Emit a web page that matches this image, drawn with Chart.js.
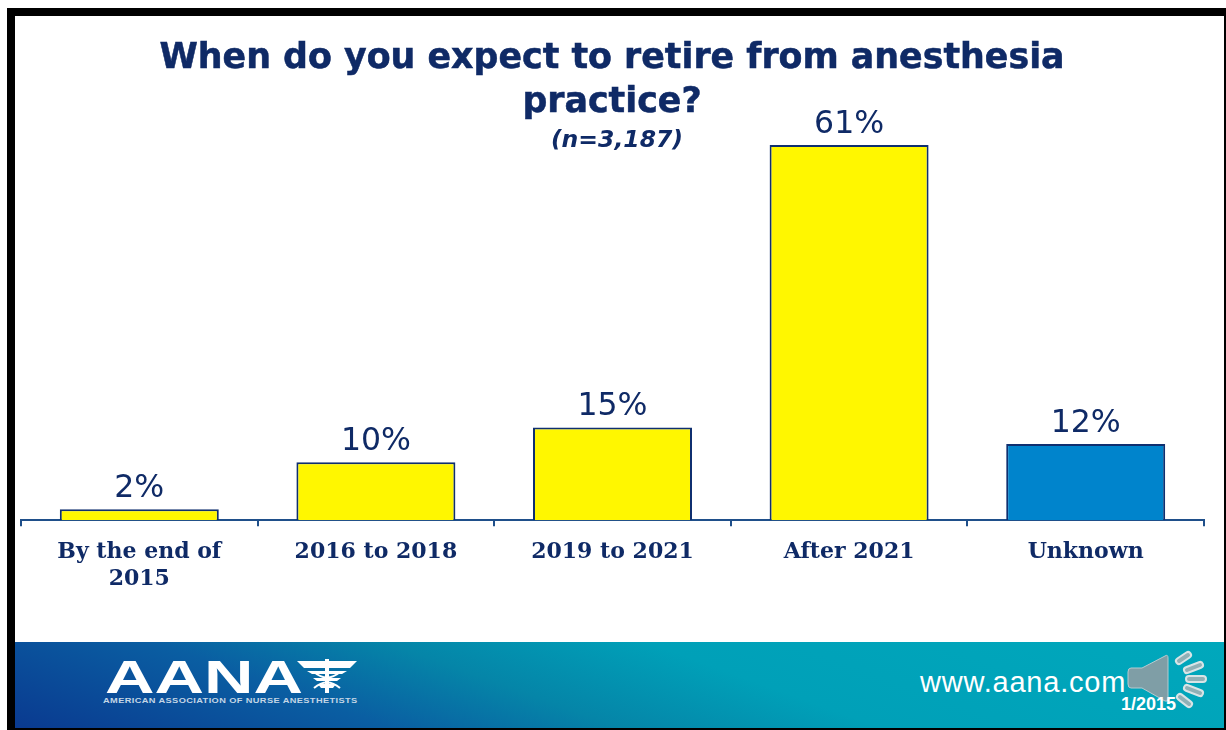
<!DOCTYPE html>
<html><head><meta charset="utf-8">
<script src="https://cdn.jsdelivr.net/npm/chart.js@4"></script>
<style>
html,body{margin:0;padding:0;background:#fff;width:1226px;height:730px;overflow:hidden}
#frame{position:absolute;left:7px;top:8px;width:1219px;height:722px;background:#000}
#slide{position:absolute;left:15px;top:16px;width:1209px;height:712px;background:#fff}
#wrap{position:absolute;left:0;top:0;width:1226px;height:640px}
canvas{position:absolute;left:0;top:0}
.t{position:absolute;white-space:nowrap;text-align:center;color:#0f2a66}
#footer{position:absolute;left:15px;top:642px;width:1209px;height:86px;background:linear-gradient(20deg,#0a3a90 0%,#0a5ea2 26%,#0585a8 42%,#00a0b8 60%,#00a8bc 100%);overflow:hidden}
</style></head><body>
<div id="frame"></div>
<div id="slide"></div>
<div id="wrap"><canvas id="c" width="1226" height="640"></canvas></div>
<div class="t" style="left:0;width:1224px;top:34px;font:bold 34.8px/44px 'DejaVu Sans';-webkit-text-stroke:.5px #0f2a66">When do you expect to retire from anesthesia<br>practice?</div>
<div class="t" style="left:0;width:1234px;top:125px;font:italic bold 23.5px/28px 'DejaVu Sans'">(n=3,187)</div>
<div id="footer">
<svg width="1209" height="86" style="position:absolute;left:0;top:0">
<g transform="translate(-15,-642)" fill="#fff">
<path d="M297 661H357L350 668H304Z"/>
<path d="M307 671H347L342 674H312ZM313 678H341L337 681H317ZM318 684H336L333 688H321Z"/>
<rect x="325" y="659" width="4" height="34"/>
<path d="M314 672Q327 683 340 672M314 688Q327 677 340 688" fill="none" stroke="#fff" stroke-width="2"/>
</g></svg>
<div style="position:absolute;left:90px;top:12px;color:#fff;font:bold 46px/46px 'Liberation Sans';transform-origin:0 0;transform:scaleX(1.49)">AANA</div>
<div style="position:absolute;left:88px;top:55px;color:#c4d6e6;font:bold 6.6px/8px 'Liberation Sans';letter-spacing:.28px;white-space:nowrap;transform-origin:0 0;transform:scaleX(1.4)">AMERICAN ASSOCIATION OF NURSE ANESTHETISTS</div>
<div style="position:absolute;left:905px;top:23px;color:#fff;font:29px/34px 'Liberation Sans';white-space:nowrap;letter-spacing:.8px">www.aana.com</div>
<svg width="90" height="72" style="position:absolute;left:1111px;top:4px">
<path d="M5 22 Q2 22 2 26 V38 Q2 42 5 42 H16 L39 55 Q42 56 42 53 V12 Q42 8 39 10 L16 22Z" fill="#7f9ea6" stroke="#b6cbd0" stroke-width="1"/>
<g fill="none" stroke-linecap="round">
<path d="M53 15l9-6M61 24l13-5M63 33h14M61 42l13 5M54 51l9 7" stroke="#d8e4e6" stroke-width="8"/>
<path d="M53 15l9-6M61 24l13-5M63 33h14M61 42l13 5M54 51l9 7" stroke="#8fb0b6" stroke-width="4"/>
</g></svg>
<div style="position:absolute;left:1106px;top:53px;color:#fff;font:bold 18px/18px 'Liberation Sans';white-space:nowrap">1/2015</div>
</div>
<script>
const categories = [["By the end of","2015"],"2016 to 2018","2019 to 2021","After 2021","Unknown"];
const barHeights = [1.8,9.45,15.1,61,12.4];
const percentLabels = ["2%","10%","15%","61%","12%"];
const barColors = ["#FFF700","#FFF700","#FFF700","#FFF700","#0084CC"];
const edge = "#0f2f6f";
const axisColor = "#1f4f8a";
const valueLabels = {
  id:"valueLabels",
  afterDatasetsDraw(chart){
    const ctx = chart.ctx;
    const bars = chart.getDatasetMeta(0).data;
    ctx.save();
    ctx.font = "31.5px 'DejaVu Sans'";
    ctx.fillStyle = "#0f2a66";
    ctx.textAlign = "center";
    ctx.textBaseline = "alphabetic";
    bars.forEach((b,i)=>ctx.fillText(percentLabels[i], b.x, b.y-12));
    ctx.restore();
  }
};
new Chart(document.getElementById("c"),{
  type:"bar",
  data:{labels:categories,datasets:[{data:barHeights,backgroundColor:barColors,borderColor:edge,borderWidth:2,barPercentage:0.672,categoryPercentage:1}]},
  plugins:[valueLabels],
  options:{
    responsive:false,animation:false,
    layout:{padding:{left:21,right:22,top:145,bottom:34}},
    plugins:{legend:{display:false},title:{display:false},tooltip:{enabled:false}},
    scales:{
      y:{display:false,min:0,max:61},
      x:{
        grid:{drawOnChartArea:false,drawTicks:true,tickLength:6,lineWidth:2,color:axisColor,offset:true},
        border:{color:axisColor,width:2},
        ticks:{color:"#0f2a66",font:{family:"'DejaVu Serif'",weight:"bold",size:22,lineHeight:1.22},padding:13,maxRotation:0,autoSkip:false}
      }
    }
  }
});
</script>
</body></html>
